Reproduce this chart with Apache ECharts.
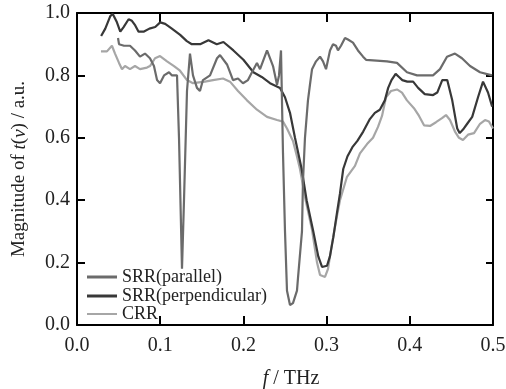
<!DOCTYPE html>
<html>
<head>
<meta charset="utf-8">
<script src="https://cdn.jsdelivr.net/npm/echarts@6/dist/echarts.min.js"></script>
<style>html,body{margin:0;padding:0;background:#fff;}#c{width:506px;height:389px;}</style>
</head>
<body>
<div id="c"></div>
<script>
// ---- data (frequency in THz, magnitude in a.u.) ----
var xTicks = [0.0, 0.1, 0.2, 0.3, 0.4, 0.5];
var yTicks = [0.0, 0.2, 0.4, 0.6, 0.8, 1.0];
var seriesNames = ['SRR(parallel)', 'SRR(perpendicular)', 'CRR'];

var parF = [0.0493,0.0505,0.0565,0.0637,0.0697,0.0757,0.0817,0.0877,0.0925,0.0962,0.0998,0.1046,0.1106,0.1142,0.1202,0.1226,0.1262,0.1286,0.1322,0.1358,0.1394,0.1442,0.1478,0.1514,0.1599,0.1683,0.1719,0.1803,0.1875,0.1935,0.1995,0.2055,0.2103,0.2163,0.2200,0.2284,0.2356,0.2404,0.2428,0.2452,0.2476,0.2500,0.2524,0.2560,0.2596,0.2644,0.2656,0.2704,0.2716,0.2740,0.2776,0.2800,0.2825,0.2873,0.2921,0.2957,0.2993,0.3041,0.3077,0.3113,0.3137,0.3173,0.3221,0.3257,0.3317,0.3377,0.3438,0.3474,0.3726,0.3846,0.3966,0.4087,0.4207,0.4279,0.4363,0.4447,0.4543,0.4627,0.4724,0.4844,0.4988];
var parV = [0.92,0.90,0.895,0.895,0.88,0.86,0.87,0.855,0.83,0.785,0.775,0.80,0.81,0.80,0.80,0.60,0.18,0.40,0.75,0.87,0.80,0.76,0.75,0.785,0.80,0.855,0.865,0.835,0.785,0.79,0.775,0.785,0.81,0.84,0.82,0.88,0.83,0.77,0.80,0.88,0.55,0.30,0.11,0.064,0.07,0.11,0.15,0.30,0.46,0.60,0.72,0.77,0.82,0.845,0.86,0.845,0.82,0.88,0.90,0.895,0.88,0.895,0.92,0.915,0.905,0.88,0.86,0.85,0.845,0.84,0.81,0.80,0.80,0.80,0.82,0.86,0.87,0.855,0.83,0.81,0.80];

var perpF = [0.029,0.034,0.040,0.043,0.048,0.052,0.056,0.062,0.066,0.070,0.074,0.080,0.087,0.094,0.100,0.106,0.114,0.124,0.132,0.138,0.148,0.158,0.168,0.176,0.188,0.200,0.212,0.222,0.232,0.244,0.250,0.256,0.262,0.270,0.276,0.284,0.290,0.2945,0.3005,0.304,0.308,0.3125,0.316,0.320,0.325,0.331,0.337,0.344,0.352,0.358,0.364,0.370,0.374,0.378,0.383,0.387,0.391,0.397,0.404,0.410,0.418,0.428,0.433,0.439,0.445,0.451,0.457,0.460,0.465,0.469,0.475,0.482,0.488,0.494,0.499];
var perpV = [0.926,0.95,0.99,0.997,0.97,0.94,0.955,0.98,0.975,0.96,0.94,0.94,0.95,0.955,0.97,0.965,0.95,0.93,0.91,0.90,0.90,0.913,0.90,0.907,0.88,0.85,0.81,0.795,0.775,0.76,0.73,0.68,0.60,0.50,0.40,0.30,0.22,0.186,0.19,0.22,0.28,0.36,0.42,0.50,0.54,0.57,0.59,0.62,0.66,0.68,0.69,0.72,0.76,0.785,0.805,0.795,0.785,0.78,0.78,0.76,0.74,0.737,0.745,0.785,0.785,0.72,0.63,0.615,0.63,0.645,0.667,0.73,0.78,0.745,0.70];

var crrF = [0.0288,0.036,0.042,0.0457,0.0505,0.0541,0.0577,0.0637,0.0697,0.0757,0.0841,0.0877,0.0938,0.0998,0.1082,0.1166,0.1238,0.1322,0.1394,0.1538,0.1635,0.1755,0.1839,0.1935,0.2043,0.2163,0.2284,0.2404,0.2476,0.2524,0.2596,0.2644,0.268,0.274,0.2825,0.2885,0.2921,0.2981,0.3017,0.3065,0.3125,0.3161,0.3245,0.3341,0.3401,0.3486,0.3558,0.3618,0.3666,0.3714,0.3774,0.3846,0.3906,0.3966,0.405,0.4111,0.4171,0.4243,0.4315,0.4387,0.4435,0.4483,0.4543,0.4591,0.4639,0.47,0.4772,0.4844,0.4904,0.4952,0.5];
var crrV = [0.877,0.877,0.895,0.87,0.84,0.82,0.83,0.82,0.83,0.82,0.825,0.83,0.855,0.862,0.845,0.83,0.815,0.785,0.775,0.78,0.785,0.79,0.78,0.75,0.72,0.69,0.667,0.657,0.652,0.63,0.59,0.54,0.50,0.41,0.305,0.20,0.16,0.154,0.18,0.26,0.35,0.40,0.475,0.51,0.55,0.58,0.60,0.635,0.67,0.73,0.75,0.755,0.745,0.72,0.695,0.67,0.64,0.638,0.65,0.663,0.673,0.657,0.62,0.60,0.593,0.61,0.615,0.645,0.657,0.652,0.63];

function pairs(xs, ys) { return xs.map(function (x, i) { return [x, ys[i]]; }); }

var FONT = '"Liberation Serif", "DejaVu Serif", serif';
var colPar = '#6b6b6b', colPerp = '#383838', colCrr = '#a6a6a6';

var chart = echarts.init(document.getElementById('c'), null, {renderer: 'canvas'});
var axisLineStyle = {color: '#000', width: 2};
function mkLegend(name, top, h) {
  return {
    data: [name], left: 87, top: top, padding: 0, orient: 'vertical',
    icon: 'rect', itemWidth: 30, itemHeight: h,
    textStyle: {fontFamily: FONT, fontSize: 18, color: '#222'}
  };
}
chart.setOption({
  animation: false,
  grid: {left: 77, right: 13, top: 13, bottom: 64, containLabel: false, outerBoundsMode: 'none'},
  legend: [mkLegend(seriesNames[0], 268, 3), mkLegend(seriesNames[1], 287, 3), mkLegend(seriesNames[2], 305, 2)],
  xAxis: [{
    type: 'value', min: xTicks[0], max: xTicks[xTicks.length - 1], interval: 0.1,
    name: '{i|f} / THz', nameLocation: 'middle', nameGap: 44,
    nameTextStyle: {fontFamily: FONT, fontSize: 20, color: '#222', padding: [0, 0, 0, 12], rich: {i: {fontFamily: FONT, fontStyle: 'italic', fontSize: 20, color: '#222'}}},
    axisLine: {show: true, onZero: false, lineStyle: axisLineStyle},
    axisTick: {show: true, inside: true, length: 9, lineStyle: {color: '#000', width: 2}},
    axisLabel: {margin: 11, fontFamily: FONT, fontSize: 20, color: '#222', formatter: function (v) { return v.toFixed(1); }},
    splitLine: {show: false}
  }, {
    type: 'value', position: 'top', min: 0, max: 0.5, interval: 0.1,
    axisLine: {show: true, onZero: false, lineStyle: axisLineStyle},
    axisTick: {show: true, inside: true, length: 9, lineStyle: {color: '#000', width: 2}},
    axisLabel: {show: false}, splitLine: {show: false}
  }],
  yAxis: [{
    type: 'value', min: yTicks[0], max: yTicks[yTicks.length - 1], interval: 0.2,
    name: 'Magnitude of {i|t}({i|ν}) / a.u.', nameLocation: 'middle', nameGap: 48, nameRotate: 90,
    nameTextStyle: {fontFamily: FONT, fontSize: 19, color: '#222', rich: {i: {fontFamily: FONT, fontStyle: 'italic', fontSize: 19, color: '#222'}}},
    axisLine: {show: true, onZero: false, lineStyle: axisLineStyle},
    axisTick: {show: true, inside: true, length: 8, lineStyle: {color: '#000', width: 2}},
    axisLabel: {margin: 7, fontFamily: FONT, fontSize: 20, color: '#222', formatter: function (v) { return v.toFixed(1); }},
    splitLine: {show: false}
  }, {
    type: 'value', position: 'right', min: 0, max: 1, interval: 0.2,
    axisLine: {show: true, onZero: false, lineStyle: axisLineStyle},
    axisTick: {show: true, inside: true, length: 7, lineStyle: {color: '#000', width: 2}},
    axisLabel: {show: false}, splitLine: {show: false}
  }],
  series: [
    {name: seriesNames[2], type: 'line', data: pairs(crrF, crrV), showSymbol: false, symbol: 'none', lineStyle: {color: colCrr, width: 2.2}, itemStyle: {color: colCrr}, z: 2},
    {name: seriesNames[1], type: 'line', data: pairs(perpF, perpV), showSymbol: false, symbol: 'none', lineStyle: {color: colPerp, width: 2.2}, itemStyle: {color: colPerp}, z: 3},
    {name: seriesNames[0], type: 'line', data: pairs(parF, parV), showSymbol: false, symbol: 'none', lineStyle: {color: colPar, width: 2.2}, itemStyle: {color: colPar}, z: 4}
  ]
});
</script>
</body>
</html>
